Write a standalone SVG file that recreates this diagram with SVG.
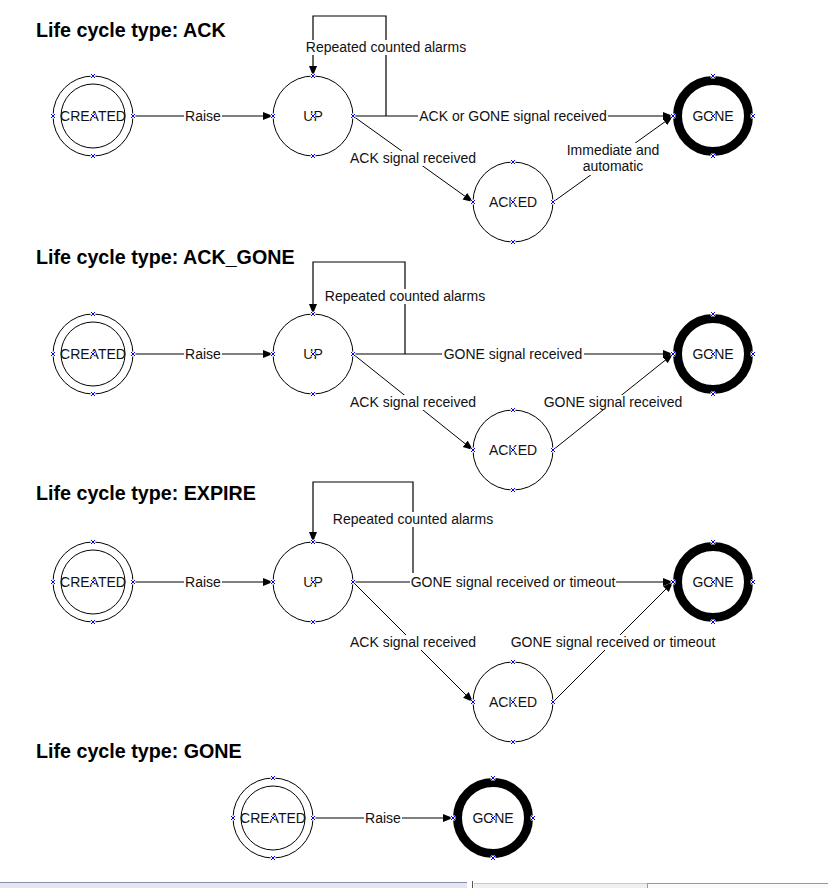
<svg xmlns="http://www.w3.org/2000/svg" xmlns:xlink="http://www.w3.org/1999/xlink" width="828" height="888" viewBox="0 0 828 888">
<style>
.title{font-family:"Liberation Sans",Arial,sans-serif;font-weight:bold;font-size:19.7px;fill:#000}
.lbl{font-family:"Liberation Sans",Arial,sans-serif;font-size:14px;fill:#111;text-anchor:middle}
.ring{fill:none;stroke:#000;stroke-width:1}
.gone{fill:none;stroke:#000;stroke-width:9}
.edge{fill:none;stroke:#000;stroke-width:1.2}
.diag{fill:none;stroke:#000;stroke-width:1}
.bg{fill:#fff}
.mkw{fill:none;stroke:#fff;stroke-width:2.6}
.mkb{fill:none;stroke:#00f;stroke-width:1}
</style>
<defs>
<marker id="arr" markerWidth="11" markerHeight="9" refX="10" refY="4" orient="auto" markerUnits="userSpaceOnUse">
<path d="M0,0 L10,4 L0,8 z" fill="#000"/>
</marker>
<g id="xm">
<path class="mkw" d="M-2,-2 L2,2 M-2,2 L2,-2"/>
<path class="mkb" d="M-2,-2 L2,2 M-2,2 L2,-2"/>
</g>
</defs>
<rect width="828" height="888" fill="#fff"/>

<!-- Titles -->
<text class="title" x="36" y="37">Life cycle type: ACK</text>
<text class="title" x="36" y="264">Life cycle type: ACK_GONE</text>
<text class="title" x="36" y="500">Life cycle type: EXPIRE</text>
<text class="title" x="36" y="758">Life cycle type: GONE</text>

<g id="connectors">
<!-- Section ACK -->
<path class="edge" d="M133,116 H273" marker-end="url(#arr)"/>
<path class="edge" d="M353,116 H673" marker-end="url(#arr)"/>
<path class="edge" d="M386,116 V16 H313 V76" marker-end="url(#arr)"/>
<path class="diag" d="M353,116 L473,202" marker-end="url(#arr)"/>
<path class="diag" d="M553,202 L673,116" marker-end="url(#arr)"/>
<rect class="bg" x="184" y="108" width="38" height="15"/>
<text class="lbl" x="203" y="121">Raise</text>
<rect class="bg" x="305" y="40" width="162" height="15"/>
<text class="lbl" x="386" y="52">Repeated counted alarms</text>
<rect class="bg" x="418" y="108" width="190" height="15"/>
<text class="lbl" x="513" y="121">ACK or GONE signal received</text>
<rect class="bg" x="349" y="151" width="128" height="15"/>
<text class="lbl" x="413" y="163">ACK signal received</text>
<rect class="bg" x="566" y="143" width="95" height="32"/>
<text class="lbl" x="613" y="155">Immediate and</text>
<text class="lbl" x="613" y="171">automatic</text>

<!-- Section ACK_GONE -->
<path class="edge" d="M133,354 H273" marker-end="url(#arr)"/>
<path class="edge" d="M353,354 H673" marker-end="url(#arr)"/>
<path class="edge" d="M405,354 V262 H313 V314" marker-end="url(#arr)"/>
<path class="diag" d="M353,354 L473,450" marker-end="url(#arr)"/>
<path class="diag" d="M553,450 L673,354" marker-end="url(#arr)"/>
<rect class="bg" x="184" y="346" width="38" height="15"/>
<text class="lbl" x="203" y="359">Raise</text>
<rect class="bg" x="324" y="289" width="162" height="15"/>
<text class="lbl" x="405" y="301">Repeated counted alarms</text>
<rect class="bg" x="442" y="346" width="142" height="15"/>
<text class="lbl" x="513" y="359">GONE signal received</text>
<rect class="bg" x="349" y="395" width="128" height="15"/>
<text class="lbl" x="413" y="407">ACK signal received</text>
<rect class="bg" x="542" y="395" width="142" height="15"/>
<text class="lbl" x="613" y="407">GONE signal received</text>

<!-- Section EXPIRE -->
<path class="edge" d="M133,582 H273" marker-end="url(#arr)"/>
<path class="edge" d="M353,582 H673" marker-end="url(#arr)"/>
<path class="edge" d="M413,582 V482 H313 V542" marker-end="url(#arr)"/>
<path class="diag" d="M353,582 L473,702" marker-end="url(#arr)"/>
<path class="diag" d="M553,702 L673,582" marker-end="url(#arr)"/>
<rect class="bg" x="184" y="574" width="38" height="15"/>
<text class="lbl" x="203" y="587">Raise</text>
<rect class="bg" x="332" y="512" width="162" height="15"/>
<text class="lbl" x="413" y="524">Repeated counted alarms</text>
<rect class="bg" x="410" y="573" width="206" height="15"/>
<text class="lbl" x="513" y="587">GONE signal received or timeout</text>
<rect class="bg" x="349" y="635" width="128" height="15"/>
<text class="lbl" x="413" y="647">ACK signal received</text>
<rect class="bg" x="510" y="635" width="206" height="15"/>
<text class="lbl" x="613" y="647">GONE signal received or timeout</text>

<!-- Section GONE -->
<path class="edge" d="M313,818 H453" marker-end="url(#arr)"/>
<rect class="bg" x="364" y="810" width="38" height="15"/>
<text class="lbl" x="383" y="823">Raise</text>
</g>

<!-- Nodes: section ACK -->
<g id="ack-created">
<circle class="ring" cx="93" cy="116" r="40"/><circle class="ring" cx="93" cy="116" r="32"/>
<text class="lbl" x="93" y="121">CREATED</text>
<use xlink:href="#xm" x="93" y="76"/><use xlink:href="#xm" x="93" y="156"/><use xlink:href="#xm" x="53" y="116"/><use xlink:href="#xm" x="133" y="116"/><use xlink:href="#xm" x="93" y="116"/>
</g>
<g id="ack-up">
<circle class="ring" cx="313" cy="116" r="40"/>
<text class="lbl" x="313" y="121">UP</text>
<use xlink:href="#xm" x="313" y="76"/><use xlink:href="#xm" x="313" y="156"/><use xlink:href="#xm" x="273" y="116"/><use xlink:href="#xm" x="353" y="116"/><use xlink:href="#xm" x="313" y="116"/>
</g>
<g id="ack-acked">
<circle class="ring" cx="513" cy="202" r="40"/>
<text class="lbl" x="513" y="207">ACKED</text>
<use xlink:href="#xm" x="513" y="162"/><use xlink:href="#xm" x="513" y="242"/><use xlink:href="#xm" x="473" y="202"/><use xlink:href="#xm" x="553" y="202"/><use xlink:href="#xm" x="513" y="202"/>
</g>
<g id="ack-gone">
<circle class="gone" cx="713" cy="116" r="35.5"/>
<text class="lbl" x="713" y="121">GONE</text>
<use xlink:href="#xm" x="713" y="76"/><use xlink:href="#xm" x="713" y="156"/><use xlink:href="#xm" x="673" y="116"/><use xlink:href="#xm" x="753" y="116"/><use xlink:href="#xm" x="713" y="116"/>
</g>

<!-- Nodes: section ACK_GONE -->
<g id="ackgone-created">
<circle class="ring" cx="93" cy="354" r="40"/><circle class="ring" cx="93" cy="354" r="32"/>
<text class="lbl" x="93" y="359">CREATED</text>
<use xlink:href="#xm" x="93" y="314"/><use xlink:href="#xm" x="93" y="394"/><use xlink:href="#xm" x="53" y="354"/><use xlink:href="#xm" x="133" y="354"/><use xlink:href="#xm" x="93" y="354"/>
</g>
<g id="ackgone-up">
<circle class="ring" cx="313" cy="354" r="40"/>
<text class="lbl" x="313" y="359">UP</text>
<use xlink:href="#xm" x="313" y="314"/><use xlink:href="#xm" x="313" y="394"/><use xlink:href="#xm" x="273" y="354"/><use xlink:href="#xm" x="353" y="354"/><use xlink:href="#xm" x="313" y="354"/>
</g>
<g id="ackgone-acked">
<circle class="ring" cx="513" cy="450" r="40"/>
<text class="lbl" x="513" y="455">ACKED</text>
<use xlink:href="#xm" x="513" y="410"/><use xlink:href="#xm" x="513" y="490"/><use xlink:href="#xm" x="473" y="450"/><use xlink:href="#xm" x="553" y="450"/><use xlink:href="#xm" x="513" y="450"/>
</g>
<g id="ackgone-gone">
<circle class="gone" cx="713" cy="354" r="35.5"/>
<text class="lbl" x="713" y="359">GONE</text>
<use xlink:href="#xm" x="713" y="314"/><use xlink:href="#xm" x="713" y="394"/><use xlink:href="#xm" x="673" y="354"/><use xlink:href="#xm" x="753" y="354"/><use xlink:href="#xm" x="713" y="354"/>
</g>

<!-- Nodes: section EXPIRE -->
<g id="expire-created">
<circle class="ring" cx="93" cy="582" r="40"/><circle class="ring" cx="93" cy="582" r="32"/>
<text class="lbl" x="93" y="587">CREATED</text>
<use xlink:href="#xm" x="93" y="542"/><use xlink:href="#xm" x="93" y="622"/><use xlink:href="#xm" x="53" y="582"/><use xlink:href="#xm" x="133" y="582"/><use xlink:href="#xm" x="93" y="582"/>
</g>
<g id="expire-up">
<circle class="ring" cx="313" cy="582" r="40"/>
<text class="lbl" x="313" y="587">UP</text>
<use xlink:href="#xm" x="313" y="542"/><use xlink:href="#xm" x="313" y="622"/><use xlink:href="#xm" x="273" y="582"/><use xlink:href="#xm" x="353" y="582"/><use xlink:href="#xm" x="313" y="582"/>
</g>
<g id="expire-acked">
<circle class="ring" cx="513" cy="702" r="40"/>
<text class="lbl" x="513" y="707">ACKED</text>
<use xlink:href="#xm" x="513" y="662"/><use xlink:href="#xm" x="513" y="742"/><use xlink:href="#xm" x="473" y="702"/><use xlink:href="#xm" x="553" y="702"/><use xlink:href="#xm" x="513" y="702"/>
</g>
<g id="expire-gone">
<circle class="gone" cx="713" cy="582" r="35.5"/>
<text class="lbl" x="713" y="587">GONE</text>
<use xlink:href="#xm" x="713" y="542"/><use xlink:href="#xm" x="713" y="622"/><use xlink:href="#xm" x="673" y="582"/><use xlink:href="#xm" x="753" y="582"/><use xlink:href="#xm" x="713" y="582"/>
</g>

<!-- Nodes: section GONE -->
<g id="gone-created">
<circle class="ring" cx="273" cy="818" r="40"/><circle class="ring" cx="273" cy="818" r="32"/>
<text class="lbl" x="273" y="823">CREATED</text>
<use xlink:href="#xm" x="273" y="778"/><use xlink:href="#xm" x="273" y="858"/><use xlink:href="#xm" x="233" y="818"/><use xlink:href="#xm" x="313" y="818"/><use xlink:href="#xm" x="273" y="818"/>
</g>
<g id="gone-gone">
<circle class="gone" cx="493" cy="818" r="35.5"/>
<text class="lbl" x="493" y="823">GONE</text>
<use xlink:href="#xm" x="493" y="778"/><use xlink:href="#xm" x="493" y="858"/><use xlink:href="#xm" x="453" y="818"/><use xlink:href="#xm" x="533" y="818"/><use xlink:href="#xm" x="493" y="818"/>
</g>

<!-- bottom window strip -->
<rect x="0" y="882" width="467" height="6" fill="#e6e6ef"/>
<rect x="0" y="882" width="467" height="1" fill="#8c8cb0"/>
<rect x="472" y="881" width="1" height="7" fill="#555"/>
<rect x="474" y="883" width="173" height="5" fill="#f0f0f0"/>
<rect x="474" y="883" width="173" height="1" fill="#c8c8c8"/>
<rect x="647" y="883" width="1" height="5" fill="#999"/>
<rect x="648" y="883" width="180" height="5" fill="#fafafa"/>
<rect x="648" y="883" width="180" height="1" fill="#999"/>
</svg>
